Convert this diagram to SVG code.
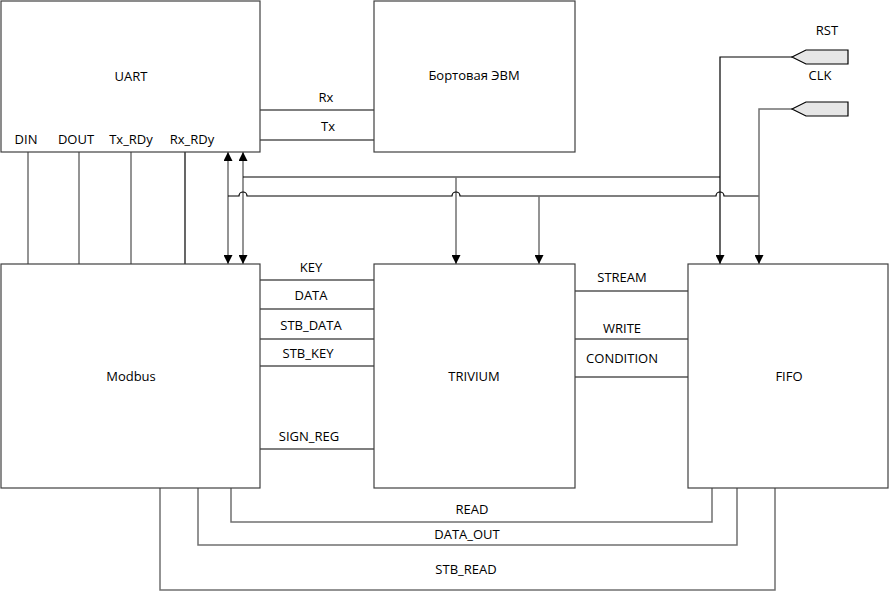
<svg xmlns="http://www.w3.org/2000/svg" width="891" height="592" viewBox="0 0 891 592">
  <style>
    .box { fill: #ffffff; stroke: #404040; stroke-width: 1.2; }
    .k { fill: none; stroke: #000000; stroke-width: 1.2; }
    .g { fill: none; stroke: #707070; stroke-width: 1.5; }
    .port { fill: #e6e6e6; stroke: #000000; stroke-width: 1.2; }
    text { font-family: "Open Sans", "Liberation Sans", sans-serif; font-size: 13px; fill: #000000; text-anchor: middle; }
  </style>
  <defs>
    <marker id="arr" viewBox="0 0 10 10" refX="10" refY="5" markerWidth="9" markerHeight="9" markerUnits="userSpaceOnUse" orient="auto-start-reverse">
      <path d="M0,0 L10,5 L0,10 Z" fill="#000000"/>
    </marker>
  </defs>

  <rect width="891" height="592" fill="#ffffff"/>

  <!-- connectors -->
  <g id="connectors">
    <!-- UART <-> onboard computer -->
    <line class="k" x1="260" y1="110" x2="374" y2="110"/>
    <line class="k" x1="260" y1="140" x2="374" y2="140"/>

    <!-- UART signal lines down to Modbus -->
    <line class="g" x1="28" y1="152" x2="28" y2="264"/>
    <line class="g" x1="79" y1="152" x2="79" y2="264"/>
    <line class="g" x1="131" y1="152" x2="131" y2="264"/>
    <line class="k" x1="185" y1="152" x2="185" y2="264"/>

    <!-- two-way buses -->
    <line class="g" x1="228" y1="152" x2="228" y2="264" marker-start="url(#arr)" marker-end="url(#arr)"/>
    <line class="g" x1="243" y1="152" x2="243" y2="264" marker-start="url(#arr)" marker-end="url(#arr)"/>

    <!-- RST distribution -->
    <polyline class="k" points="792,57 720,57 720,264" marker-end="url(#arr)"/>
    <line class="k" x1="243" y1="177" x2="720" y2="177"/>
    <line class="g" x1="456" y1="177" x2="456" y2="264" marker-end="url(#arr)"/>

    <!-- CLK distribution with hops over crossing lines -->
    <path class="k" d="M228,196 H239 A4,4 0 0 1 247,196 H452 A4,4 0 0 1 460,196 H716 A4,4 0 0 1 724,196 H759"/>
    <polyline class="g" points="792,109 759,109 759,264" marker-end="url(#arr)"/>
    <line class="g" x1="539" y1="196" x2="539" y2="264" marker-end="url(#arr)"/>

    <!-- Modbus <-> TRIVIUM -->
    <line class="k" x1="260" y1="280" x2="374" y2="280"/>
    <line class="k" x1="260" y1="309" x2="374" y2="309"/>
    <line class="k" x1="260" y1="339" x2="374" y2="339"/>
    <line class="k" x1="260" y1="366" x2="374" y2="366"/>
    <line class="k" x1="260" y1="449" x2="374" y2="449"/>

    <!-- TRIVIUM <-> FIFO -->
    <line class="k" x1="575" y1="291" x2="688" y2="291"/>
    <line class="k" x1="575" y1="339" x2="688" y2="339"/>
    <line class="k" x1="575" y1="377" x2="688" y2="377"/>

    <!-- Modbus <-> FIFO along the bottom -->
    <polyline class="g" points="231,488 231,522 712,522 712,488"/>
    <polyline class="g" points="198,488 198,545 737,545 737,488"/>
    <polyline class="g" points="160,488 160,590 775,590 775,488"/>
  </g>

  <!-- external inputs -->
  <g id="rst">
    <polygon class="port" points="792,57 806,50 848,50 848,64 806,64"/>
    <text x="827" y="35">RST</text>
  </g>
  <g id="clk">
    <polygon class="port" points="792,109 806,102 848,102 848,116 806,116"/>
    <text x="820" y="80">CLK</text>
  </g>

  <!-- nodes -->
  <g id="uart">
    <rect class="box" x="1" y="1" width="259" height="151"/>
    <text x="131" y="81">UART</text>
    <text x="26" y="144">DIN</text>
    <text x="76" y="144">DOUT</text>
    <text x="131" y="144">Tx_RDy</text>
    <text x="192" y="144">Rx_RDy</text>
  </g>
  <g id="evm">
    <rect class="box" x="374" y="1" width="201" height="151"/>
    <text x="474" y="80">Бортовая ЭВМ</text>
  </g>
  <g id="modbus">
    <rect class="box" x="1" y="264" width="259" height="224"/>
    <text x="131" y="381">Modbus</text>
  </g>
  <g id="trivium">
    <rect class="box" x="374" y="264" width="201" height="224"/>
    <text x="474" y="381">TRIVIUM</text>
  </g>
  <g id="fifo">
    <rect class="box" x="688" y="264" width="200" height="224"/>
    <text x="789" y="381">FIFO</text>
  </g>

  <!-- connector labels -->
  <g id="labels">
    <text x="326" y="102">Rx</text>
    <text x="328" y="131">Tx</text>
    <text x="311" y="272">KEY</text>
    <text x="311" y="300">DATA</text>
    <text x="311" y="330">STB_DATA</text>
    <text x="308" y="358">STB_KEY</text>
    <text x="309" y="441">SIGN_REG</text>
    <text x="622" y="282">STREAM</text>
    <text x="622" y="333">WRITE</text>
    <text x="622" y="363">CONDITION</text>
    <text x="472" y="514">READ</text>
    <text x="467" y="539">DATA_OUT</text>
    <text x="466" y="574">STB_READ</text>
  </g>
</svg>
